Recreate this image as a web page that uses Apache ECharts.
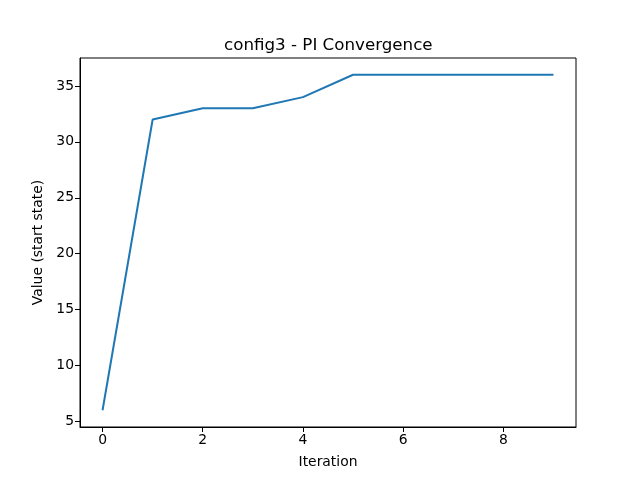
<!DOCTYPE html>
<html>
<head>
<meta charset="utf-8">
<script src="https://cdn.jsdelivr.net/npm/echarts@6/dist/echarts.min.js"></script>
<style>html,body{margin:0;padding:0;background:#fff}#c{width:640px;height:480px}</style>
</head>
<body>
<div id="c"></div>
<script>
const iterations = [0, 1, 2, 3, 4, 5, 6, 7, 8, 9];
const values = [6, 32, 33, 33, 34, 36, 36, 36, 36, 36];
const xTicks = [0, 2, 4, 6, 8];
const yTicks = [5, 10, 15, 20, 25, 30, 35];

const chart = echarts.init(document.getElementById('c'), null, {renderer: 'canvas'});
const font = 'DejaVu Sans';
chart.setOption({
  backgroundColor: '#fff',
  animation: false,
  title: {
    text: 'config3 - PI Convergence',
    left: 219, top: 32,
    textStyle: {fontFamily: font, fontSize: 16.7, fontWeight: 'normal', color: '#000'}
  },
  grid: {left: 80, right: 64, top: 58, bottom: 53, show: true, borderColor: '#000', borderWidth: 1, backgroundColor: 'transparent'},
  xAxis: {
    type: 'value', min: -0.45, max: 9.45,
    name: 'Iteration', nameLocation: 'middle', nameGap: 28,
    nameTextStyle: {fontFamily: font, fontSize: 13.9, color: '#000'},
    axisLine: {show: true, onZero: false, lineStyle: {color: '#000', width: 1}},
    axisTick: {show: true, length: 5, lineStyle: {color: '#000'}, customValues: xTicks},
    axisLabel: {fontFamily: font, fontSize: 13.9, color: '#000', margin: 6, customValues: xTicks},
    splitLine: {show: false}
  },
  yAxis: {
    type: 'value', min: 4.5, max: 37.5,
    name: 'Value (start state)', nameLocation: 'middle', nameGap: 35,
    nameTextStyle: {fontFamily: font, fontSize: 13.9, color: '#000'},
    axisLine: {show: true, onZero: false, lineStyle: {color: '#000', width: 1}},
    axisTick: {show: true, length: 5, lineStyle: {color: '#000'}, customValues: yTicks},
    axisLabel: {fontFamily: font, fontSize: 13.9, color: '#000', margin: 6, customValues: yTicks},
    splitLine: {show: false}
  },
  series: [{
    type: 'line',
    data: iterations.map((x, i) => [x, values[i]]),
    showSymbol: false,
    lineStyle: {color: '#1f77b4', width: 2},
    itemStyle: {color: '#1f77b4'}
  }]
});
</script>
</body>
</html>
